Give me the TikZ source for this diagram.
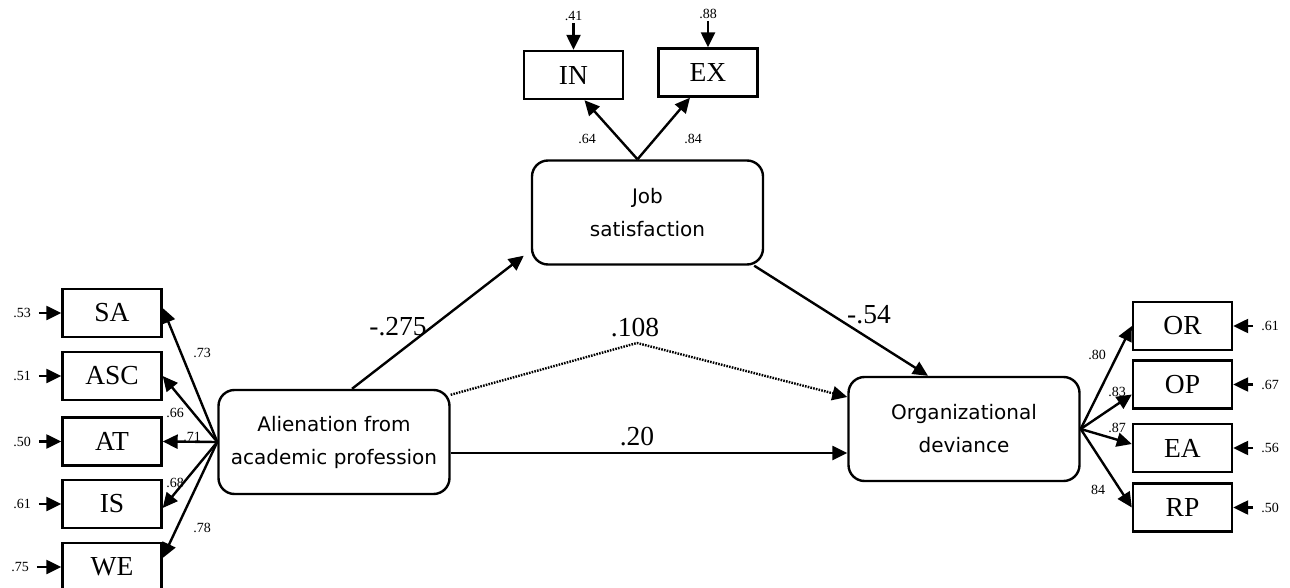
\documentclass[tikz,border=0pt]{standalone}
\usepackage{fontspec}
\setmainfont{Liberation Serif}
\newfontfamily\latfont{DejaVu Sans}
\usetikzlibrary{arrows.meta}
\begin{document}
\begin{tikzpicture}[x=1pt,y=-1pt,
  ind/.style={draw, line width=2.4pt, minimum width=99pt, minimum height=48pt, inner sep=0pt, font=\fontsize{27.5}{30}\selectfont},
  lat/.style={draw, line width=2.4pt, rounded corners=16pt, minimum width=231pt, minimum height=104pt, align=center, inner sep=0pt, font=\latfont\fontsize{20}{33}\selectfont},
  tip/.style={-{Triangle[length=15pt,width=14pt]}},
  arr/.style={line width=2.4pt, tip},
  dotline/.style={line width=2.4pt, dash pattern=on 1.6pt off 1.2pt},
  sm/.style={font=\fontsize{14}{16}\selectfont, inner sep=0pt},
  coef/.style={font=\fontsize{27.5}{30}\selectfont, inner sep=0pt}]
\useasboundingbox (0,0) rectangle (1290,588);

% latent variables
\node[lat] (Al) at (334,442) {Alienation from\\academic profession};
\node[lat] (Job) at (647.5,212.5) {Job\\satisfaction};
\node[lat] (Org) at (964,429) {Organizational\\deviance};

% left indicators
\node[ind] (SA) at (112,313) {SA};
\node[ind] (ASC) at (112,376) {ASC};
\node[ind] (AT) at (112,441.5) {AT};
\node[ind] (IS) at (112,504) {IS};
\node[ind] (WE) at (112,567) {WE};

% top indicators
\node[ind] (IN) at (573.5,75) {IN};
\node[ind] (EX) at (708,72.5) {EX};

% right indicators
\node[ind] (OR) at (1182.5,326) {OR};
\node[ind] (OP) at (1182.5,384.5) {OP};
\node[ind] (EA) at (1182.5,448) {EA};
\node[ind] (RP) at (1182.5,507.5) {RP};

% error labels
\node[sm] (eSA) at (22,313) {.53};
\node[sm] (eASC) at (22,376) {.51};
\node[sm] (eAT) at (22,441.5) {.50};
\node[sm] (eIS) at (22,504) {.61};
\node[sm] (eWE) at (20,567) {.75};
\node[sm] (eIN) at (573.5,16) {.41};
\node[sm] (eEX) at (708,14) {.88};
\node[sm] (eOR) at (1270,326) {.61};
\node[sm] (eOP) at (1270,384.5) {.67};
\node[sm] (eEA) at (1270,448) {.56};
\node[sm] (eRP) at (1270,507.5) {.50};

% error arrows
\foreach \n in {SA,ASC,AT,IS,WE}
  \draw[arr] ([xshift=8pt]e\n.east) -- (\n.west);
\foreach \n in {OR,OP,EA,RP}
  \draw[arr] ([xshift=-8pt]e\n.west) -- (\n.east);
\foreach \n in {IN,EX}
  \draw[arr] ([yshift=-2pt]e\n.south) -- (\n.north);

% left loadings
\draw[arr] (Al.west) -- ([yshift=5pt]SA.east);
\draw[arr] (Al.west) -- (ASC.east);
\draw[arr] (Al.west) -- (AT.east);
\draw[arr] (Al.west) -- ([yshift=-4pt]IS.east);
\draw[arr] (Al.west) -- ([yshift=9pt]WE.east);
\node[sm] (l1) at (202,353) {.73};
\node[sm] (l2) at (175,413) {.66};
\node[sm] (l3) at (192,437) {.71};
\node[sm] (l4) at (175,483) {.68};
\node[sm] (l5) at (202,528) {.78};

% top loadings
\coordinate (Jtop) at ([xshift=-10pt]Job.north);
\draw[arr] (Jtop) -- ([xshift=11pt]IN.south);
\draw[arr] (Jtop) -- ([xshift=-18pt]EX.south);
\node[sm] (t1) at (587,139) {.64};
\node[sm] (t2) at (693,139) {.84};

% right loadings
\draw[arr] (Org.east) -- (OR.west);
\draw[arr] (Org.east) -- ([yshift=-10pt]OP.west);
\draw[arr] (Org.east) -- ([yshift=4pt]EA.west);
\draw[arr] (Org.east) -- (RP.west);
\node[sm] (r1) at (1097,355) {.80};
\node[sm] (r2) at (1117,392) {.83};
\node[sm] (r3) at (1117,428) {.87};
\node[sm] (r4) at (1098,490) {84};

% structural paths
\draw[arr] ([xshift=18pt]Al.north) -- ([shift={(-7pt,10pt)}]Job.south west);
\draw[arr] ([xshift=-10pt]Job.south east) -- ([xshift=-36pt]Org.north);
\coordinate (peak) at (637,343);
\draw[dotline, tip] ([yshift=-6pt]Al.north east) -- (peak) -- ([yshift=32pt]Org.west);
\draw[arr] ([yshift=-11pt]Al.east) -- ([yshift=-11pt]Al.east -| Org.west);

\node[coef] (c1) at (398,327) {-.275};
\node[coef] (c2) at (869,315) {-.54};
\node[coef] (c3) at (635,328) {.108};
\node[coef] (c4) at (637,437) {.20};
\end{tikzpicture}
\end{document}
